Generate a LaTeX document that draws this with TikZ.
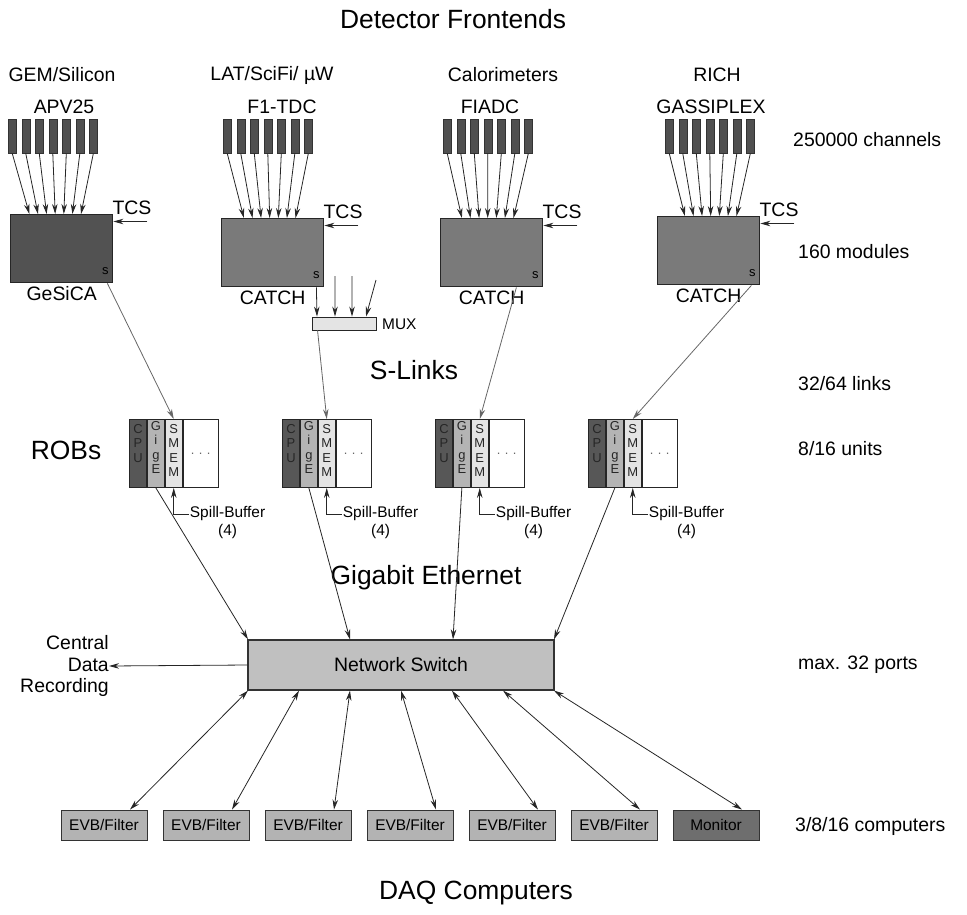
\documentclass[tikz,border=0pt]{standalone}
\usepackage{fontspec}
\setmainfont{Liberation Sans}
\usetikzlibrary{arrows.meta,positioning}
\definecolor{chipgray}{RGB}{80,80,80}
\definecolor{gesicagray}{RGB}{82,82,82}
\definecolor{catchgray}{RGB}{122,122,122}
\definecolor{cpugray}{RGB}{87,87,87}
\definecolor{gigegray}{RGB}{180,180,180}
\definecolor{smemgray}{RGB}{228,228,228}
\definecolor{switchgray}{RGB}{192,192,192}
\definecolor{pcgray}{RGB}{179,179,179}
\definecolor{mongray}{RGB}{110,110,110}
\tikzset{
  heading/.style={font=\fontsize{26.5}{31}\selectfont, inner sep=0pt},
  lab/.style={font=\fontsize{19.5}{23}\selectfont, inner sep=0pt},
  smalllab/.style={font=\fontsize{15.5}{18}\selectfont, inner sep=1pt},
  colltr/.style={font=\fontsize{13}{14.5}\selectfont, align=center,
                 inner sep=0pt, text=black!85},
  chip/.style={draw=black!80, line width=0.6bp, fill=chipgray,
               minimum width=8bp, minimum height=34bp, inner sep=0pt,
               anchor=north west},
  module/.style={draw=black!85, line width=1.4bp, minimum width=102bp,
                 minimum height=68bp, inner sep=0pt, anchor=north west},
  muxbox/.style={draw=black!85, line width=0.9bp, fill=smemgray,
                 minimum width=64bp, minimum height=13bp, inner sep=0pt},
  robcol/.style={draw=black!85, line width=0.9bp, minimum width=17bp,
                 minimum height=68bp, inner sep=0pt},
  switchbox/.style={draw=black!80, line width=1.2bp, fill=switchgray,
                    minimum width=306bp, minimum height=50bp,
                    font=\fontsize{19.5}{23}\selectfont},
  pcbox/.style={draw=black!80, line width=0.9bp, fill=pcgray,
                minimum width=86bp, minimum height=30bp, inner sep=0pt,
                font=\fontsize{15.5}{18}\selectfont},
  feed/.style={-{Stealth[length=10bp,width=5.5bp]}, line width=0.8bp, black!85},
  slink/.style={feed, draw=black!60},
  duplex/.style={{Stealth[length=10bp,width=5.5bp]}-{Stealth[length=10bp,width=5.5bp]},
                 line width=0.8bp, black!85},
}

\begin{document}
\begin{tikzpicture}[x=1bp,y=-1bp]
  \path[use as bounding box] (0,0) rectangle (967,915);

  \node[heading] (title) at (453,19) {Detector Frontends};

  % frontend chips and readout modules
  \node[lab] (det1) at (62,75) {GEM/Silicon};
  \node[lab] (fe1) at (64,107) {APV25};
  \node[lab] (det2) at (272,75) {LAT/SciFi/ µW};
  \node[lab] (fe2) at (282,107) {F1-TDC};
  \node[lab] (det3) at (503,75) {Calorimeters};
  \node[lab] (fe3) at (490,107) {FIADC};
  \node[lab] (det4) at (717,75) {RICH};
  \node[lab] (fe4) at (711,107) {GASSIPLEX};

  \foreach \g/\cx/\mx/\my/\dx/\col/\name in
      {1/8/10/214/-6.5/gesicagray/GeSiCA, 2/223/221/218/-3/catchgray/CATCH,
       3/443/440/218/-4/catchgray/CATCH, 4/665/657/216/2/catchgray/CATCH}{
    \node[module, fill=\col] (mod\g) at (\mx,\my) {};
    \node[font=\fontsize{13}{14}\selectfont, inner sep=0pt] (s\g)
      at ([shift={(-8,-12)}]mod\g.south east) {s};
    \node[lab, below=3bp of mod\g] (modlab\g) {\name};
    \foreach \i in {1,...,7}{
      \node[chip] (chip\g-\i) at ({\cx+(\i-1)*13.5},119) {};
      \pgfmathsetmacro\ex{\dx+(\i-4)*8.6}
      \draw[feed] (chip\g-\i.south) -- ([xshift=\ex bp]mod\g.north);
    }
    % trigger input
    \coordinate (tcs\g) at ([shift={(34,7.5)}]mod\g.north east);
    \draw[feed] (tcs\g) -- (tcs\g -| mod\g.east);
    \node[lab, anchor=base west] (tcslab\g) at ([xshift=-1bp]mod\g.north east) {TCS};
  }

  % multiplexer behind the second CATCH
  \node[muxbox] (mux) at (344,323.5) {};
  \node[smalllab, anchor=west] (muxlab) at (381,324) {MUX};
  \coordinate (in1) at (335,276);
  \coordinate (in2) at (352,276);
  \coordinate (in3) at (376,280);
  \draw[feed] ([xshift=-8bp]mod2.south east) -- ([xshift=-27bp]mux.north);
  \draw[feed] (in1) -- ([xshift=-9bp]mux.north);
  \draw[feed] (in2) -- ([xshift=8bp]mux.north);
  \draw[feed] (in3) -- ([xshift=22bp]mux.north);

  \node[heading] (slinks) at (414,370) {S-Links};

  % readout buffers
  \node[heading] (robs) at (66,450) {ROBs};
  \foreach \k/\rx in {1/129,2/282,3/435,4/588}{
    \node[robcol, fill=cpugray, anchor=north west,
          label={[colltr, anchor=north, yshift=-5bp]north:C\\P\\U}] (cpu\k) at (\rx,419) {};
    \node[robcol, fill=gigegray, right=0pt of cpu\k,
          label={[colltr, anchor=north, yshift=-2bp]north:G\\i\\g\\E}] (gige\k) {};
    \node[robcol, fill=smemgray, right=0pt of gige\k,
          label={[colltr, anchor=north, yshift=-5bp]north:S\\M\\E\\M}] (smem\k) {};
    \node[robcol, fill=white, minimum width=35bp, right=0pt of smem\k,
          label={[colltr, text=black!60]center:.\,\,.\,\,.}] (rest\k) {};
    \node[smalllab, anchor=west] (sb\k) at ([shift={(15,26)}]smem\k.south) {Spill-Buffer};
    \node[smalllab, below=1bp of sb\k] (sbn\k) {(4)};
    \draw[feed] (sb\k.west) -| (smem\k.south);
  }

  \draw[slink] ([xshift=-6bp]mod1.south east) -- (smem1.north);
  \draw[slink] ([xshift=6bp]mux.south west) -- (smem2.north);
  \draw[slink] ([xshift=-27bp]mod3.south east) -- (smem3.north);
  \draw[slink] ([xshift=-9bp]mod4.south east) -- (smem4.north);

  \node[heading] (gbe) at (426,578) {Gigabit Ethernet};

  % switch and event builders
  \node[switchbox] (switch) at (401,665) {Network Switch};
  \foreach \k/\sx in {1/-153,2/-51,3/52,4/153}
    \draw[feed] (gige\k.south) -- ([xshift=\sx bp]switch.north);

  \node[lab, align=right, anchor=east, font=\fontsize{19.5}{21.5}\selectfont]
    (cdr) at (109,666) {Central\\Data\\Recording};
  \draw[feed] (switch.west) -- (cdr.east);

  \foreach \k in {1,...,6}
    \node[pcbox] (pc\k) at ({104+(\k-1)*102},825) {EVB/Filter};
  \node[pcbox, fill=mongray] (pc7) at (716,825) {Monitor};
  \foreach \k in {1,...,7}{
    \pgfmathsetmacro\sx{-204+51*\k}
    \draw[duplex] ([xshift=\sx bp]switch.south) -- ([xshift=26bp]pc\k.north);
  }

  \node[heading] (daq) at (476,893) {DAQ Computers};

  % numbers on the right
  \node[lab, anchor=west] (n1) at (793,140) {250000 channels};
  \node[lab, anchor=west] (n2) at (798,252) {160 modules};
  \node[lab, anchor=west] (n3) at (798,384) {32/64 links};
  \node[lab, anchor=west] (n4) at (798,449) {8/16 units};
  \node[lab, anchor=west] (n5) at (798,665) {max. 32 ports};
  \node[lab, anchor=west] (n6) at (795,826) {3/8/16 computers};
\end{tikzpicture}
\end{document}
